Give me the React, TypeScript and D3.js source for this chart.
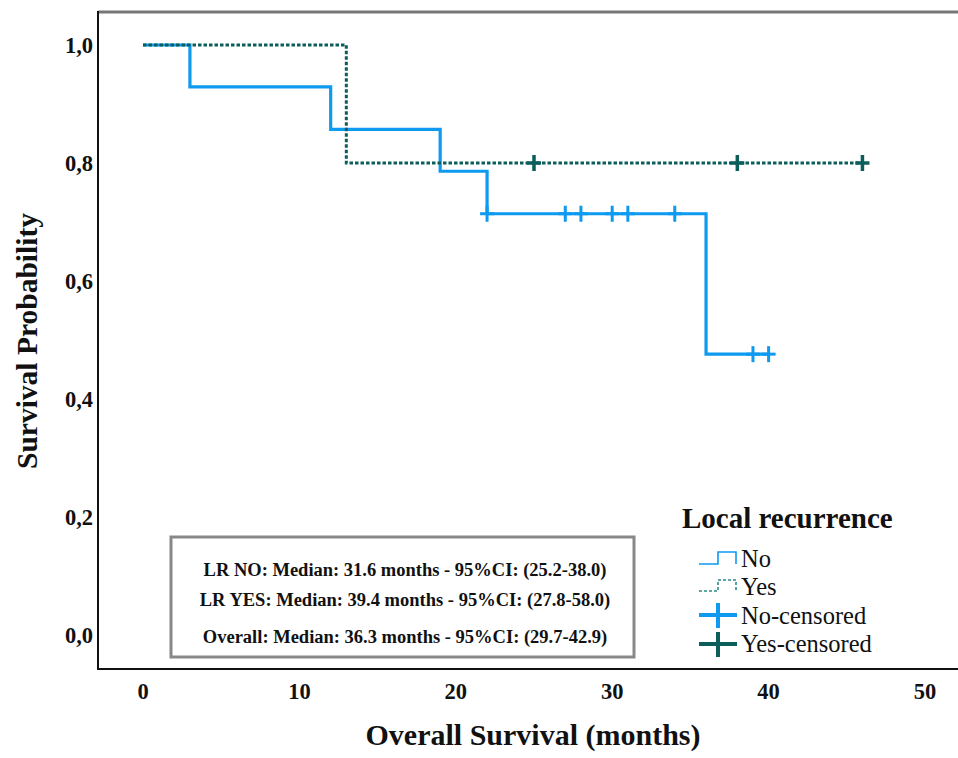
import React from "react";
import * as d3 from "d3";

const noStepTimes = [0, 3, 12, 19, 22, 36];
const noStepSurv = [1.0, 0.929, 0.857, 0.786, 0.714, 0.476];
const noEnd = 40;
const noCensored = [22, 27, 28, 30, 31, 34, 39, 40];

const yesStepTimes = [0, 13];
const yesStepSurv = [1.0, 0.8];
const yesEnd = 46;
const yesCensored = [25, 38, 46];

const xTicks = [0, 10, 20, 30, 40, 50];
const yTicks = [0, 0.2, 0.4, 0.6, 0.8, 1.0];

const statsLines = [
  "LR NO: Median: 31.6 months - 95%CI: (25.2-38.0)",
  "LR YES: Median: 39.4 months - 95%CI: (27.8-58.0)",
  "Overall: Median: 36.3 months - 95%CI: (29.7-42.9)",
];
const legendLabels = ["No", "Yes", "No-censored", "Yes-censored"];

const NO_COLOR = "#0d9af0";
const YES_COLOR = "#0b5e5a";
const FONT = "Liberation Serif, Tinos, DejaVu Serif, serif";

function stepValue(times: number[], surv: number[], t: number) {
  let v = surv[0];
  for (let i = 0; i < times.length; i++) if (times[i] <= t) v = surv[i];
  return v;
}

function buildPoints(times: number[], surv: number[], end: number): [number, number][] {
  const pts: [number, number][] = times.map((t, i) => [t, surv[i]]);
  pts.push([end, surv[surv.length - 1]]);
  return pts;
}

export default function App() {
  const x = d3.scaleLinear().domain([0, 50]).range([143, 925]);
  const y = d3.scaleLinear().domain([0, 1]).range([635, 45]);
  const line = d3
    .line<[number, number]>()
    .x((d) => x(d[0]))
    .y((d) => y(d[1]))
    .curve(d3.curveStepAfter);

  const noPath = line(buildPoints(noStepTimes, noStepSurv, noEnd)) || "";
  const yesPath = line(buildPoints(yesStepTimes, yesStepSurv, yesEnd)) || "";

  const fmt = (v: number) => v.toFixed(1).replace(".", ",");
  const ts = { fontFamily: FONT };

  return (
    <svg
      width={958}
      height={758}
      style={{ position: "absolute", left: 0, top: 0, background: "#fff", fontFamily: FONT }}
    >
      <rect x={0} y={0} width={958} height={758} fill="#fff" />
      <line x1={98} y1={12} x2={958} y2={12} stroke="#777" strokeWidth={3} />
      <line x1={98} y1={11} x2={98} y2={670} stroke="#111" strokeWidth={2} />
      <line x1={97} y1={669} x2={958} y2={669} stroke="#111" strokeWidth={2} />

      {yTicks.map((t) => (
        <text
          key={"y" + t}
          x={93}
          y={y(t) + 8}
          textAnchor="end"
          fontSize={22.5}
          fontWeight="bold"
          fill="#111"
          style={ts}
        >
          {fmt(t)}
        </text>
      ))}
      {xTicks.map((t) => (
        <text
          key={"x" + t}
          x={x(t)}
          y={699}
          textAnchor="middle"
          fontSize={22.5}
          fontWeight="bold"
          fill="#111"
          style={ts}
        >
          {t}
        </text>
      ))}
      <text
        x={533}
        y={745}
        textAnchor="middle"
        fontSize={30}
        fontWeight="bold"
        fill="#111"
        style={ts}
      >
        Overall Survival (months)
      </text>
      <text
        transform="translate(37,341) rotate(-90)"
        textAnchor="middle"
        fontSize={29.5}
        fontWeight="bold"
        fill="#111"
        style={ts}
      >
        Survival Probability
      </text>

      <path d={noPath} fill="none" stroke={NO_COLOR} strokeWidth={3.2} />
      <path
        d={yesPath}
        fill="none"
        stroke={YES_COLOR}
        strokeWidth={3}
        strokeDasharray="3.5 2"
      />
      {noCensored.map((t, i) => {
        const cx = x(t);
        const cy = y(stepValue(noStepTimes, noStepSurv, t));
        return (
          <g key={"nc" + i} stroke={NO_COLOR} strokeWidth={3}>
            <line x1={cx} y1={cy - 8} x2={cx} y2={cy + 8} />
            <line x1={cx - 7} y1={cy} x2={cx + 7} y2={cy} />
          </g>
        );
      })}
      {yesCensored.map((t, i) => {
        const cx = x(t);
        const cy = y(stepValue(yesStepTimes, yesStepSurv, t));
        return (
          <g key={"yc" + i} stroke={YES_COLOR} strokeWidth={3.5}>
            <line x1={cx} y1={cy - 8} x2={cx} y2={cy + 8} />
            <line x1={cx - 7} y1={cy} x2={cx + 7} y2={cy} />
          </g>
        );
      })}

      <rect
        x={171}
        y={537}
        width={463}
        height={120}
        fill="#fff"
        stroke="#888"
        strokeWidth={3}
      />
      {statsLines.map((s, i) => (
        <text
          key={"s" + i}
          x={405}
          y={[576, 606, 643][i]}
          textAnchor="middle"
          fontSize={18.5}
          fontWeight="bold"
          fill="#111"
          style={ts}
        >
          {s}
        </text>
      ))}

      <text x={682} y={528} fontSize={29} fontWeight="bold" fill="#111" style={ts}>
        Local recurrence
      </text>
      <path
        d="M699,564 H718 V552 H736 V564"
        fill="none"
        stroke={NO_COLOR}
        strokeWidth={1.6}
      />
      <path
        d="M699,591 H718 V580 H736 V591"
        fill="none"
        stroke="#2a8a86"
        strokeWidth={1.6}
        strokeDasharray="3 2"
      />
      <g stroke={NO_COLOR} strokeWidth={4}>
        <line x1={699} y1={615} x2={737} y2={615} />
        <line x1={718} y1={603} x2={718} y2={628} />
      </g>
      <g stroke={YES_COLOR} strokeWidth={4}>
        <line x1={699} y1={644} x2={737} y2={644} />
        <line x1={718} y1={632} x2={718} y2={657} />
      </g>
      {legendLabels.map((l, i) => (
        <text
          key={"l" + i}
          x={741}
          y={[567, 595, 624, 652][i]}
          fontSize={24.5}
          fill="#111"
          style={ts}
        >
          {l}
        </text>
      ))}
    </svg>
  );
}
